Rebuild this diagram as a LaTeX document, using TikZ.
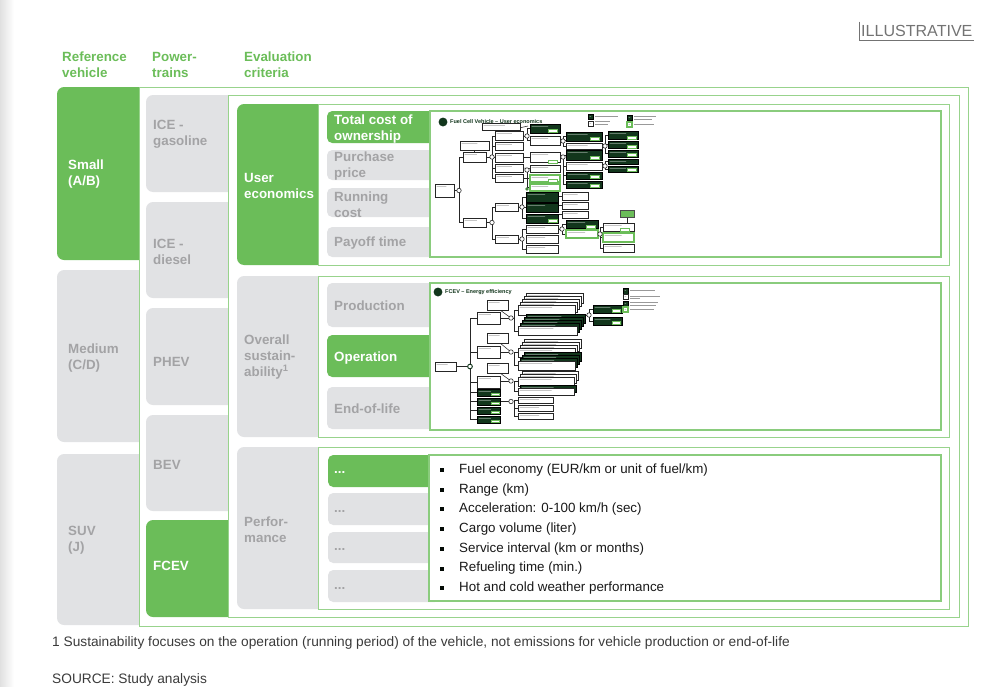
\documentclass[tikz,border=0pt]{standalone}
\usepackage{fontspec}
\setmainfont{Liberation Sans}
\usetikzlibrary{positioning,calc}
\definecolor{leafgreen}{HTML}{6BBD59}
\definecolor{rimgreen}{HTML}{98D38C}
\definecolor{boxgray}{HTML}{E1E2E4}
\definecolor{txtgray}{HTML}{A3A3A5}
\definecolor{darkleaf}{HTML}{12361C}
\definecolor{notegray}{HTML}{3A3A3A}
\tikzset{
  colbox/.style={fill=#1, draw=none, rounded corners=6pt},
  colbox/.default=boxgray,
  subbox/.style={fill=#1, draw=none, rounded corners=4.5pt},
  subbox/.default=boxgray,
  gframe/.style={draw=rimgreen, line width=0.8pt, fill=white},
  thumb/.style={draw=rimgreen!70!leafgreen, line width=1pt, fill=white},
  lbl/.style={anchor=west, align=left, inner sep=0pt,
    font=\fontsize{11.4}{13.7}\selectfont\bfseries, text=#1},
  lbl/.default=txtgray,
  head/.style={lbl=leafgreen},
  crit/.style={anchor=west, inner sep=0pt,
    font=\fontsize{11.4}{13.7}\selectfont, text=black!90},
  bul/.style={fill=black!80!darkleaf, inner sep=0pt, minimum size=3.4pt},
  foot/.style={anchor=west, inner sep=0pt,
    font=\fontsize{11.7}{13.5}\selectfont, text=notegray},
  % miniature tree pieces
  tl/.style={draw=black!85, line width=0.45pt},
  jn/.style={fill=white, draw=black!85, line width=0.5pt},
  mdk/.style={fill=darkleaf, draw=black, line width=0.5pt,
    path picture={\draw[white!55!darkleaf, line width=0.5pt]
      ($(path picture bounding box.north west)+(1.5,2.3)$) --
      ($(path picture bounding box.north west)!0.6!(path picture bounding box.north east)+(0,2.3)$);}},
  mwt/.style={fill=white, draw=black!85, line width=0.6pt,
    path picture={\draw[black!35, line width=0.5pt]
      ($(path picture bounding box.north west)+(1.5,2.3)$) --
      ($(path picture bounding box.north west)!0.6!(path picture bounding box.north east)+(0,2.3)$);}},
  mgn/.style={fill=white, draw=leafgreen, line width=0.9pt,
    path picture={\draw[black!35, line width=0.5pt]
      ($(path picture bounding box.north west)+(1.5,2.3)$) --
      ($(path picture bounding box.north west)!0.6!(path picture bounding box.north east)+(0,2.3)$);}},
  mtag/.style={fill=white, draw=leafgreen, line width=0.4pt},
  mtxt/.style={draw=black!40, line width=0.5pt},
}

\begin{document}
\begin{tikzpicture}[x=0.03cm, y=-0.03cm]
  \useasboundingbox (0,0) rectangle (1001,686);
  \shade[left color=black!12, right color=white] (0,0) rectangle (14,686);

  % column heads
  \node[head] (hdrref) at (62,65) {Reference\\vehicle};
  \node[head] (hdrpt) at (152,65) {Power-\\trains};
  \node[head] (hdrev) at (244,65) {Evaluation\\criteria};

  \node[anchor=west, inner sep=0pt, font=\fontsize{13.7}{16}\selectfont, text=black!55] (illus) at (861,31) {ILLUSTRATIVE};
  \draw[black!55, line width=0.9pt] ([xshift=-1.5pt, yshift=3pt]illus.north west) |- ([xshift=1.5pt, yshift=-3pt]illus.south east);

  % reference vehicle
  \path[colbox=leafgreen] (57,87) rectangle (150,260);
  \path[colbox] (57,270) rectangle (150,442);
  \path[colbox] (57,454) rectangle (150,625);
  \node[lbl=white] (small) at (68,174) {Small\\(A/B)};
  \node[lbl] (medium) at (68,358) {Medium\\(C/D)};
  \node[lbl] (suv) at (68,540) {SUV\\(J)};

  \path[gframe] (139,87) rectangle (968,626);

  % powertrains
  \path[colbox] (146,95) rectangle (236,192);
  \path[colbox] (146,202) rectangle (236,298);
  \path[colbox] (146,308) rectangle (236,405);
  \path[colbox] (146,415) rectangle (236,511);
  \path[colbox=leafgreen] (146,520) rectangle (236,617);
  \node[lbl] (icegas) at (153,134) {ICE -\\gasoline};
  \node[lbl] (icedie) at (153,252) {ICE -\\diesel};
  \node[lbl] (phev) at (153,362) {PHEV};
  \node[lbl] (bev) at (153,465) {BEV};
  \node[lbl=white] (fcev) at (153,566) {FCEV};

  \path[gframe] (228,95) rectangle (959,617);

  % evaluation criteria
  \path[colbox=leafgreen] (237,104) rectangle (326,265);
  \path[colbox] (237,276) rectangle (326,437);
  \path[colbox] (237,447) rectangle (326,609);
  \node[lbl=white] (usereco) at (244,186) {User\\economics};
  \node[lbl] (sustain) at (244,357) {Overall\\sustain-\\ability\textsuperscript{1}};
  \node[lbl] (perf) at (244,530) {Perfor-\\mance};

  \path[gframe] (318,104) rectangle (949,265);
  \path[gframe] (318,276) rectangle (949,437);
  \path[gframe] (318,447) rectangle (949,609);

  % sub-criteria
  \path[subbox=leafgreen] (327,111) rectangle (440,143);
  \path[subbox] (327,150) rectangle (440,180);
  \path[subbox] (327,188) rectangle (440,217);
  \path[subbox] (327,227) rectangle (440,257);
  \node[lbl=white] (tco) at (334,129) {Total cost of\\ownership};
  \node[lbl] (purch) at (334,166.5) {Purchase\\price};
  \node[lbl] (runc) at (334,204.5) {Running\\cost};
  \node[lbl] (payoff) at (334,243) {Payoff time};

  \path[subbox] (327,283) rectangle (440,327);
  \path[subbox=leafgreen] (327,335) rectangle (440,377);
  \path[subbox] (327,387) rectangle (440,429);
  \node[lbl] (prod) at (334,306) {Production};
  \node[lbl=white] (oper) at (334,358) {Operation};
  \node[lbl] (eol) at (334,409) {End-of-life};

  \path[subbox=leafgreen] (328,455) rectangle (440,487);
  \path[subbox] (328,493) rectangle (440,525);
  \path[subbox] (328,532) rectangle (440,563);
  \path[subbox] (328,570) rectangle (440,602);
  \node[lbl=white] (perfa) at (334,472) {...};
  \node[lbl] (perfb) at (334,511) {...};
  \node[lbl] (perfc) at (334,549) {...};
  \node[lbl] (perfd) at (334,588) {...};

  \path[thumb] (430,111) rectangle (941,257);
  \path[thumb] (430,283) rectangle (941,430);
  \path[thumb] (429,455) rectangle (941,601);

  % performance list
  \foreach \txt [count=\i] in {Fuel economy (EUR/km or unit of fuel/km), Range (km),
      Acceleration: 0-100 km/h (sec), Cargo volume (liter),
      Service interval (km or months), Refueling time (min.),
      Hot and cold weather performance} {
    \node[bul] (bul\i) at (442,{470+19.7*(\i-1)}) {};
    \node[crit] (crit\i) at (459,{470+19.7*(\i-1)}) {\txt};
  }

  % miniature: user economics tree
  \fill[darkleaf] (443,122) circle (3.8pt);
  \node[anchor=west, inner sep=0pt, font=\fontsize{4.7}{5}\selectfont\bfseries, text=darkleaf] (uetitle) at (450,122) {Fuel Cell Vehicle -- User economics};
  \draw[tl] (454,190.5) -- (459,190.5);
  \draw[tl] (463,157) -| (459,222.5) -- (463,222.5);
  \draw[tl] (486,157) -- (492,157);
  \draw[tl] (495,136) -| (492,178) -- (495,178);
  \foreach \yy in {146,157.5,168} \draw[tl] (492,\yy) -- (495,\yy);
  \draw[tl] (523,136) -- (527,136); \draw[tl] (530,128.5) -| (527,140.5) -- (530,140.5);
  \draw[tl] (523,157.5) -- (530,157.5);
  \draw[tl] (523,168) -- (530,168.5); \draw[tl] (523,178) -- (527,178);
  \draw[tl] (527,168.5) |- (530,187.5); \draw[tl] (527,178.5) -- (530,178.5);
  \draw[tl] (560,140.5) -- (566,140.5); \draw[tl] (566,136.5) -| (563,146) -- (566,146);
  \draw[tl] (560,157) -- (563,157); \draw[tl] (566,155) -| (563,184.5) -- (566,184.5);
  \draw[tl] (563,166) -- (566,166); \draw[tl] (563,175.5) -- (566,175.5);
  \draw[tl] (602,146) -- (605,146); \draw[tl] (608,135) -| (605,153.5) -- (608,153.5); \draw[tl] (605,144.5) -- (608,144.5);
  \draw[tl] (602,166) -- (605,166); \draw[tl] (608,161.5) -| (605,169) -- (608,169);
  \draw[tl] (486,222.5) -- (492,222.5); \draw[tl] (495,207) -| (492,239) -- (495,239);
  \draw[tl] (518,207) -- (522,207); \draw[tl] (526,197) -| (522,218.5) -- (526,218.5); \draw[tl] (522,207.5) -- (526,207.5);
  \draw[tl] (518,239) -- (522,239); \draw[tl] (526,229) -| (522,249) -- (526,249);
  \foreach \yy in {196,205.5,214.5} \draw[tl] (558,\yy) -- (562,\yy);
  \draw[tl] (558,229) -- (562,229); \draw[tl] (566,224) -| (562,234) -- (566,234);
  \draw[tl] (598,234) -- (600,234); \draw[tl] (603,227) -| (600,248) -- (603,248); \draw[tl] (600,237.5) -- (603,237.5);
  \draw[tl] (627,217) -- (627,223);
  \draw[tl] (474,150) -- (474,152); \draw[tl] (510,130) -- (528,126);
  \path[mwt] (435,184) rectangle (454,197);
  \path[mwt] (460,141) rectangle (489,150);
  \path[mwt] (463,152) rectangle (486,162);
  \path[mwt] (463,218) rectangle (486,227);
  \path[mwt] (482,123) rectangle (520,130);
  \foreach \ya/\yb in {131/140,142/150,153/162,164/172,174/182} \path[mwt] (495,\ya) rectangle (523,\yb);
  \path[mdk] (530,124) rectangle (560,133);
  \foreach \ya/\yb in {136/145,152/162,165/172} \path[mwt] (530,\ya) rectangle (560,\yb);
  \foreach \ya/\yb in {175/182,184/191} \path[mgn] (530,\ya) rectangle (560,\yb);
  \foreach \ya/\yb in {132/141,150/160,172/179,181/188} \path[mdk] (566,\ya) rectangle (602,\yb);
  \foreach \ya/\yb in {143/149,162/170} \path[mwt] (566,\ya) rectangle (602,\yb);
  \foreach \ya/\yb in {131/139,141/148,150/157,159/164,166/172} \path[mdk] (608,\ya) rectangle (638,\yb);
  \foreach \ya/\yb in {203/211,235/243} \path[mwt] (495,\ya) rectangle (518,\yb);
  \foreach \ya/\yb in {192/202,203/212,214/223} \path[mdk] (526,\ya) rectangle (558,\yb);
  \foreach \ya/\yb in {225/233,235/243,245/253} \path[mwt] (526,\ya) rectangle (558,\yb);
  \foreach \ya/\yb in {192/200,202/209,211/218} \path[mwt] (562,\ya) rectangle (588,\yb);
  \path[mdk] (566,220) rectangle (598,228);
  \path[mgn] (566,230) rectangle (598,238);
  \path[mwt] (603,223) rectangle (634,231);
  \path[mgn] (603,233) rectangle (634,242);
  \path[mwt] (603,244) rectangle (634,252);
  \path[fill=leafgreen, draw=black!70, line width=0.4pt] (620,210) rectangle (634,217);
  \foreach \xx/\yy in {548/129,590/137,590/156,590/175,590/184,627/136,627/145,627/153,627/168,548/160,548/179,548/219,586/225,620/228} \path[mtag] (\xx,\yy) rectangle +(9,3);
  \foreach \xx/\yy in {459/190.5,492/157,527/136,527/170,563/141,563/157,605/146,605/166,492/222.5,522/207,522/239,562/229,600/234} \path[jn] (\xx,\yy) circle (1.9pt);
  \fill[leafgreen!60!darkleaf] (527,189) circle (1.6pt);
  \path[mdk] (588,114) rectangle (593,119);
  \path[mwt] (588,121) rectangle (593,126);
  \path[mdk] (627,115) rectangle (632,120);
  \path[mgn] (627,122) rectangle (632,127);
  \draw[mtxt] (595,116.5) -- (618,116.5); \draw[mtxt] (595,121.5) -- (610,121.5); \draw[mtxt] (595,124.5) -- (608,124.5);
  \draw[mtxt] (634,116.5) -- (656,116.5); \draw[mtxt] (634,119.5) -- (652,119.5); \draw[mtxt] (634,124.5) -- (654,124.5);

  % miniature: energy efficiency tree
  \fill[darkleaf] (438,292) circle (3.8pt);
  \node[anchor=west, inner sep=0pt, font=\fontsize{4.7}{5}\selectfont\bfseries, text=darkleaf] (eetitle) at (445,292) {FCEV -- Energy efficiency};
  \draw[tl] (456,366.5) -- (470,366.5);
  \draw[tl] (477,318) -| (470,419) -- (477,419);
  \foreach \yy in {352,382,392.5,401.5,410.5} \draw[tl] (470,\yy) -- (477,\yy);
  \foreach \yy in {318,352,381,401.5} \draw[tl] (500,\yy) -- (511,\yy);
  \draw[tl] (500,310) -- (511,318); \draw[tl] (500,343) -- (511,352); \draw[tl] (500,373) -- (511,381);
  \draw[tl] (518,310) -| (514,331) -- (518,331); \draw[tl] (511,318) -- (514,318);
  \draw[tl] (518,352.5) -| (514,365.5) -- (518,365.5);
  \draw[tl] (518,381.5) -| (514,391.5) -- (518,391.5);
  \draw[tl] (518,400) -| (514,416) -- (518,416); \draw[tl] (514,408) -- (518,408);
  \draw[tl] (577,315) -- (589,315); \draw[tl] (593,309) -| (589,321) -- (593,321);
  \foreach \k in {4,3,2,1,0} \path[mwt] ({518+2*\k},{305-3*\k}) rectangle ({575+2*\k},{315-3*\k});
  \foreach \k in {4,3,2,1} \path[mdk] ({518+2*\k},{326-3*\k}) rectangle ({577+2*\k},{335-3*\k});
  \path[mwt] (518,326) rectangle (577,335);
  \foreach \k in {3,2,1,0} \path[mwt] ({518+2*\k},{348-3*\k}) rectangle ({575+2*\k},{357-3*\k});
  \foreach \k in {3,2,1} \path[mdk] ({518+2*\k},{361-3*\k}) rectangle ({575+2*\k},{370-3*\k});
  \path[mwt] (518,361) rectangle (575,370);
  \foreach \k in {2,1,0} \path[mwt] ({518+2*\k},{377-3*\k}) rectangle ({574+2*\k},{386-3*\k});
  \path[mdk] (520,385) rectangle (576,392);
  \path[mwt] (518,388) rectangle (574,395);
  \foreach \ya/\yb in {397/403,405/411,413/419} \path[mwt] (518,\ya) rectangle (553,\yb);
  \path[mwt] (435,362) rectangle (456,371);
  \foreach \ya/\yb in {312/324,346/358,376/388} \path[mwt] (477,\ya) rectangle (500,\yb);
  \foreach \ya/\yb in {389/396,398/405,407/414,416/423} \path[mdk] (477,\ya) rectangle (500,\yb);
  \foreach \ya/\yb in {300/310,333/343,363/373} \path[mwt] (487,\ya) rectangle (508,\yb);
  \path[mdk] (593,305) rectangle (622,313);
  \path[mdk] (593,317) rectangle (622,325);
  \foreach \xx/\yy in {491/393,491/402,491/411,491/420,612/309.5,612/321.5} \path[mtag] (\xx,\yy) rectangle +(8,2.5);
  \foreach \xx/\yy in {511/318,511/352,511/381,511/401.5,589/315} \path[jn] (\xx,\yy) circle (1.9pt);
  \path[fill=white, draw=darkleaf, line width=0.8pt] (470,366.5) circle (2pt);
  \path[mdk] (623,288) rectangle (628,294);
  \path[mwt] (623,294) rectangle (628,299);
  \path[mdk] (623,301) rectangle (628,306);
  \path[mgn] (623,307) rectangle (628,312);
  \draw[mtxt] (630,290) -- (655,290); \draw[mtxt] (630,296) -- (660,296); \draw[mtxt] (630,298.5) -- (640,298.5);
  \draw[mtxt] (630,302.5) -- (658,302.5); \draw[mtxt] (630,305) -- (656,305); \draw[mtxt] (630,309.5) -- (654,309.5);

  % footnotes
  \node[foot] (fnote) at (52,643) {1 Sustainability focuses on the operation (running period) of the vehicle, not emissions for vehicle production or end-of-life};
  \node[foot] (source) at (52,680) {SOURCE: Study analysis};
\end{tikzpicture}
\end{document}
